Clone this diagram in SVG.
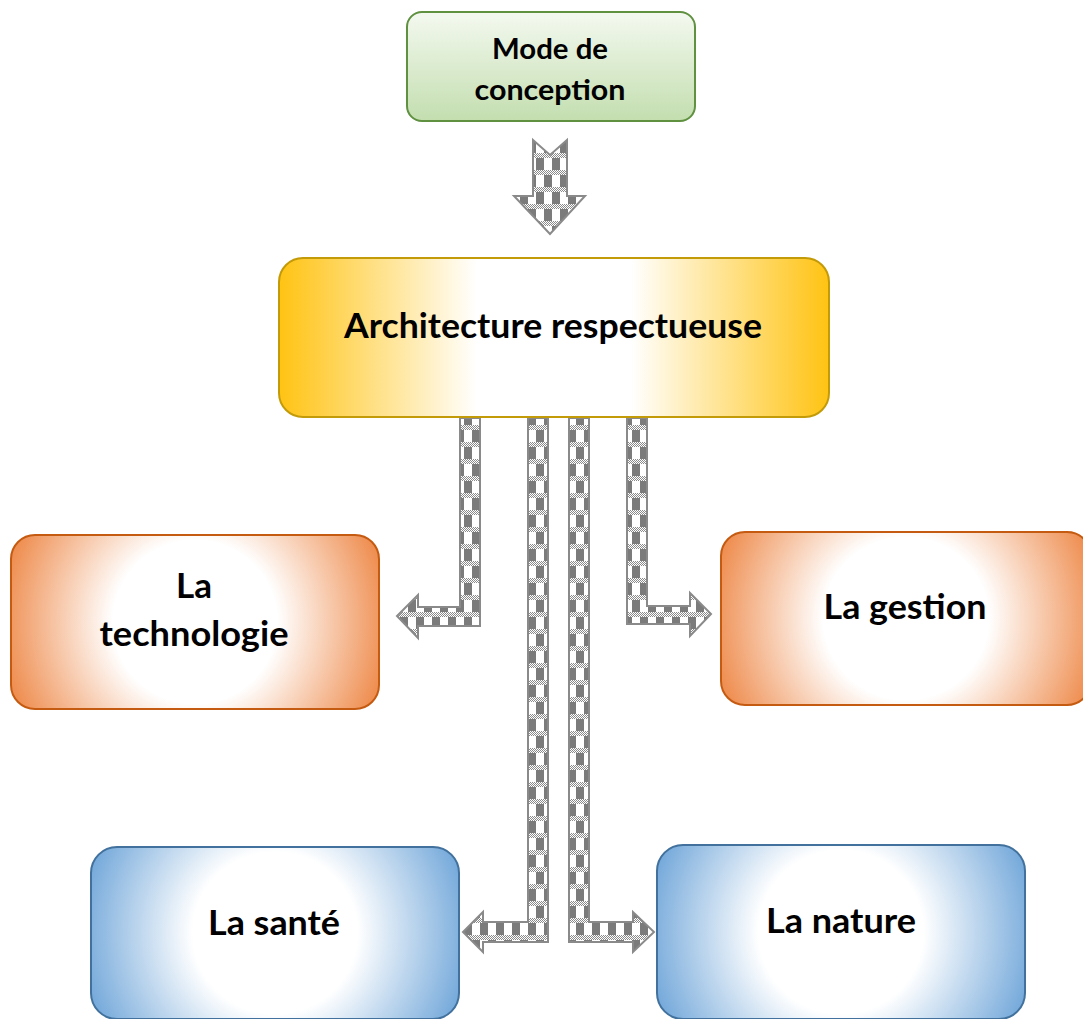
<svg xmlns="http://www.w3.org/2000/svg" width="1083" height="1019" viewBox="0 0 1083 1019">
<style>
.lbl{font-family:Lato,"Open Sans","Liberation Sans",sans-serif;font-weight:bold;fill:#000;text-anchor:middle}
.arr{fill:url(#plaid);stroke:#8a8a8a;stroke-width:2;stroke-linejoin:miter}
</style>
<defs>
<linearGradient id="gGreen" x1="0" y1="0" x2="0" y2="1">
<stop offset="0" stop-color="#f4f9f0"/>
<stop offset="1" stop-color="#c3deaf"/>
</linearGradient>
<linearGradient id="gYellow" x1="0" y1="0" x2="1" y2="0">
<stop offset="0" stop-color="#ffc312"/>
<stop offset="0.36" stop-color="#ffffff"/>
<stop offset="0.64" stop-color="#ffffff"/>
<stop offset="1" stop-color="#ffc312"/>
</linearGradient>
<radialGradient id="gOrange" cx="0.5" cy="0.5" r="0.56" gradientTransform="translate(0.5,0.5) scale(1,2.1) translate(-0.5,-0.5)">
<stop offset="0" stop-color="#ffffff"/>
<stop offset="0.4" stop-color="#ffffff"/>
<stop offset="1" stop-color="#ed823e"/>
</radialGradient>
<radialGradient id="gBlue" cx="0.5" cy="0.5" r="0.56" gradientTransform="translate(0.5,0.5) scale(1,2.1) translate(-0.5,-0.5)">
<stop offset="0" stop-color="#ffffff"/>
<stop offset="0.4" stop-color="#ffffff"/>
<stop offset="1" stop-color="#68a1d7"/>
</radialGradient>
<pattern id="dots" patternUnits="userSpaceOnUse" width="2" height="2">
<rect width="2" height="2" fill="#ffffff"/>
<rect width="1" height="1" fill="#8a8a8a"/>
<rect x="1" y="1" width="1" height="1" fill="#8a8a8a"/>
</pattern>
<pattern id="plaid" patternUnits="userSpaceOnUse" width="16" height="34">
<rect width="16" height="34" fill="#ffffff"/>
<rect x="0" y="0" width="16" height="5" fill="url(#dots)"/>
<rect x="0" y="5" width="8" height="12" fill="#7b7b7b"/>
<rect x="0" y="17" width="16" height="5" fill="url(#dots)"/>
<rect x="8" y="22" width="8" height="12" fill="#7b7b7b"/>
</pattern>
</defs>

<g id="connectors">
<polygon class="arr" points="533,140 550,155 567,140 567,196 585,196 550,234 514,196 533,196"/>
<polygon class="arr" points="460,418 480,418 480,626 418,626 418,638 397,616 418,595 418,607 460,607"/>
<polygon class="arr" points="627,418 647,418 647,606 690,606 690,593 711,614 690,636 690,624 627,624"/>
<polygon class="arr" points="528,418 548,418 548,942 483,942 483,952 463,932 483,912 483,922 528,922"/>
<polygon class="arr" points="569,418 589,418 589,922 633,922 633,912 654,932 633,952 633,942 569,942"/>
</g>

<g id="node-mode">
<rect x="407" y="12" width="288" height="109" rx="15" fill="url(#gGreen)" stroke="#5f9140" stroke-width="2"/>
<text class="lbl" x="550" y="59" font-size="28" textLength="116" lengthAdjust="spacingAndGlyphs">Mode de</text>
<text class="lbl" x="550" y="100" font-size="28" textLength="151" lengthAdjust="spacingAndGlyphs">conception</text>
</g>

<g id="node-architecture">
<rect x="279" y="258" width="550" height="159" rx="24" fill="url(#gYellow)" stroke="#c39a08" stroke-width="2"/>
<text class="lbl" x="553" y="338" font-size="35" textLength="418" lengthAdjust="spacingAndGlyphs">Architecture respectueuse</text>
</g>

<g id="node-technologie">
<rect x="11" y="535" width="368" height="174" rx="24" fill="url(#gOrange)" stroke="#c55a11" stroke-width="2"/>
<text class="lbl" x="194" y="598" font-size="35" textLength="36" lengthAdjust="spacingAndGlyphs">La</text>
<text class="lbl" x="194" y="646" font-size="35" textLength="189" lengthAdjust="spacingAndGlyphs">technologie</text>
</g>

<g id="node-gestion">
<rect x="721" y="532" width="370" height="173" rx="24" fill="url(#gOrange)" stroke="#c55a11" stroke-width="2"/>
<text class="lbl" x="905" y="619" font-size="35" textLength="163" lengthAdjust="spacingAndGlyphs">La gestion</text>
</g>

<g id="node-sante">
<rect x="91" y="847" width="368" height="172" rx="26" fill="url(#gBlue)" stroke="#41719c" stroke-width="2"/>
<text class="lbl" x="274" y="935" font-size="35" textLength="132" lengthAdjust="spacingAndGlyphs">La santé</text>
</g>

<g id="node-nature">
<rect x="657" y="845" width="368" height="174" rx="26" fill="url(#gBlue)" stroke="#41719c" stroke-width="2"/>
<text class="lbl" x="841" y="933" font-size="35" textLength="150" lengthAdjust="spacingAndGlyphs">La nature</text>
</g>
</svg>
